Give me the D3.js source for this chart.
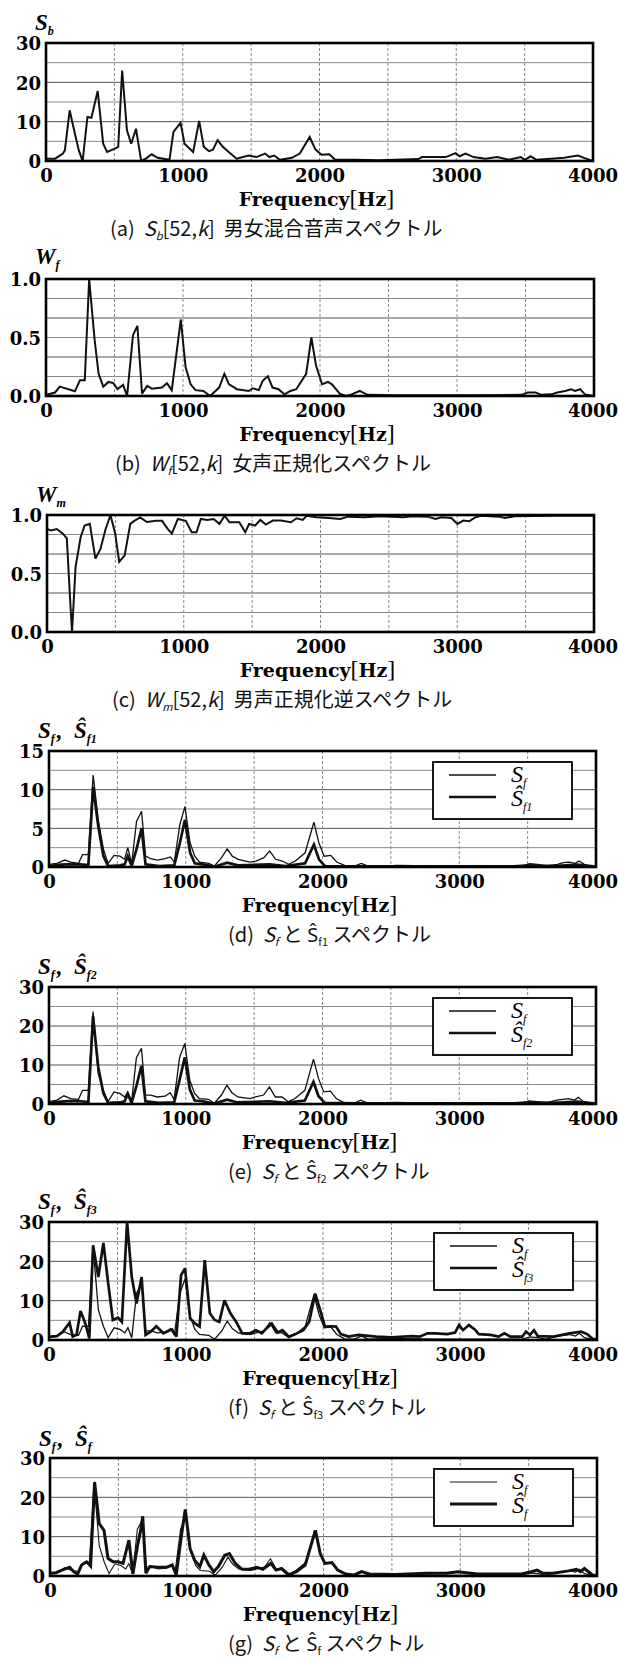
<!DOCTYPE html>
<html>
<head>
<meta charset="utf-8">
<script src="https://cdn.jsdelivr.net/npm/d3@7"></script>
<style>
  html, body { margin: 0; padding: 0; background: #fff; }
  svg { display: block; }
</style>
</head>
<body>
<svg id="fig" width="619" height="1659"></svg>
<script>
// ---- Frequency axis ----
const freqTicks = [0, 1000, 2000, 3000, 4000];
const freqGrid = [500, 1000, 1500, 2000, 2500, 3000, 3500];

// ---- (a) mixed male/female spectrum S_b[52,k] ----
const sbHz  = [0,66,124,138,173,211,240,268,303,332,378,418,447,499,528,557,592,623,658,696,730,773,817,903,932,984,1013,1076,1120,1154,1192,1221,1255,1293,1336,1394,1481,1538,1602,1634,1668,1711,1798,1856,1928,1971,2015,2072,2115,2260,2433,2548,2722,2750,2923,2996,3024,3068,3126,3212,3299,3385,3472,3501,3544,3587,3789,3890,3934,4000];
const sbVal = [0.6,0.6,1.9,2.7,12.9,7,2.7,0,11.2,11,17.8,4.4,2.3,3.1,3.6,23,7.8,4.4,8.2,0,0.6,1.7,0.8,0.3,7.4,9.7,4.4,2.3,10.2,3.6,2.5,2.9,5.3,3.6,2.3,0.6,1.4,1.0,1.9,1.0,1.4,0.3,0.8,1.9,6.1,2.9,1.6,1.7,0.3,0.3,0.2,0.3,0.5,1.0,1.0,2.0,1.2,1.9,1.0,0.6,1.0,0.3,1.0,0.3,1.2,0.3,0.8,1.4,0.8,0];

// ---- (b) female normalized spectrum W_f[52,k] ----
const wfHz  = [0,66,101,211,248,283,315,355,384,418,456,491,522,563,592,635,667,701,739,773,846,883,918,984,1019,1056,1091,1149,1198,1264,1302,1336,1394,1481,1509,1553,1582,1619,1654,1697,1740,1784,1827,1899,1937,1971,2015,2058,2087,2144,2188,2231,2289,2347,2548,3126,3472,3515,3573,3616,3688,3732,3789,3833,3861,3899,3934,4000];
const wfVal = [0.01,0.03,0.08,0.04,0.135,0.135,1.0,0.48,0.19,0.08,0.12,0.11,0.06,0.095,0,0.52,0.6,0.02,0.086,0.063,0.072,0.11,0.05,0.654,0.245,0.1,0.05,0.043,0,0.072,0.19,0.1,0.058,0.043,0.066,0.05,0.13,0.17,0.072,0.058,0.014,0.043,0.058,0.19,0.5,0.26,0.1,0.12,0.1,0.02,0,0.014,0.043,0.01,0.006,0.006,0.01,0.03,0.03,0.01,0.014,0.03,0.043,0.058,0.043,0.058,0.014,0];

// ---- (c) male normalized inverse spectrum W_m[52,k] ----
const wmHz  = [0,29,72,116,145,168,183,209,246,275,313,354,391,429,464,499,528,568,609,638,681,731,797,841,884,913,957,1015,1058,1093,1125,1174,1218,1261,1299,1334,1406,1450,1478,1522,1560,1600,1652,1710,1783,1826,1870,1899,1971,2058,2145,2203,2319,2435,2609,2667,2783,2841,2884,2957,3001,3044,3087,3131,3174,3305,3348,3420,3710,4000];
const wmVal = [0.88,0.867,0.88,0.84,0.80,0.30,0,0.556,0.81,0.91,0.924,0.627,0.71,0.88,1.0,0.84,0.6,0.655,0.924,0.95,0.98,0.94,0.95,0.95,0.88,0.84,0.966,0.95,0.853,0.853,0.966,0.958,0.966,0.924,0.994,0.938,0.938,0.853,0.924,0.91,0.958,0.918,0.952,0.952,0.938,0.972,0.958,0.994,0.98,0.975,0.966,0.986,0.98,0.99,0.98,0.989,0.986,0.966,0.98,0.975,0.924,0.952,0.946,0.98,0.994,0.986,0.975,0.99,0.994,0.994];

// ---- (d) S_f and estimate Ŝ_f1 (0–15 axis) ----
const sfdHz  = [0,58,115,159,216,245,288,323,360,398,432,476,519,553,576,605,640,677,706,744,793,850,888,916,957,994,1032,1066,1101,1167,1210,1262,1303,1340,1383,1470,1513,1571,1614,1657,1706,1752,1801,1873,1937,1974,2012,2061,2104,2162,2234,2283,2334,2507,2536,2825,3459,3516,3574,3632,3718,3761,3804,3848,3876,3914,3963,4000];
const sfdVal = [0.34,0.47,0.9,0.64,0.47,1.6,1.6,11.9,6.1,2.3,0.47,1.5,1.4,1.0,2.5,0.47,5.9,7.2,1.4,1.07,0.9,1.07,1.3,0.64,5.5,7.8,3.1,1.4,0.64,0.47,0.13,1.2,2.35,1.4,1.0,0.64,0.77,1.2,2.05,1.0,0.77,0.34,0.77,1.84,5.8,3.1,1.4,1.5,0.64,0.21,0.13,0.47,0.13,0.13,0.21,0.13,0.13,0.43,0.34,0.13,0.34,0.56,0.64,0.47,0.77,0.34,0.04,0];
const sf1Hz  = [0,86,173,231,288,323,360,398,432,519,553,576,605,640,677,706,807,916,957,994,1032,1066,1124,1210,1303,1383,1614,1729,1873,1937,1974,2017,2248,3401,3516,3689,3862,4000];
const sf1Val = [0.13,0.3,0.38,0.34,0.26,10.4,5.3,1.4,0.13,0.21,0.34,1.4,0.13,2.3,5.0,0.34,0.13,0.21,3.1,6.1,1.84,0.47,0.34,0.04,0.56,0.21,0.34,0.13,0.47,2.9,1.0,0.13,0.08,0.08,0.21,0.13,0.3,0.04];

// ---- female spectrum S_f (0–30 axis), shared by (e)(f)(g) ----
const sfHz  = [0,58,109,158,216,245,288,322,360,397,432,475,518,553,576,604,639,676,705,743,791,849,886,915,955,993,1030,1065,1099,1166,1209,1261,1301,1338,1381,1468,1511,1569,1612,1655,1704,1750,1799,1871,1934,1971,2009,2058,2101,2159,2230,2279,2331,2533,2820,3454,3511,3569,3626,3713,3756,3799,3842,3871,3908,3957,4000];
const sfVal = [0.6,1.0,2.1,1.4,1.2,3.5,3.5,23.7,7.7,3.5,0.6,3.1,2.7,1.8,3.1,0.6,11.9,14.3,2.3,2.3,1.8,2.0,2.9,1.2,11.9,15.5,6.0,2.7,1.4,1.2,0.2,2.3,4.8,2.9,1.8,1.4,1.8,2.3,4.4,1.8,1.8,0.6,1.4,3.5,11.5,6.5,3.1,3.3,1.4,0.3,0.2,1.0,0.2,0.4,0.2,0.2,0.8,0.6,0.2,1.0,1.2,1.4,1.0,1.7,0.6,0.2,0];

// ---- (e) estimate Ŝ_f2 ----
const sf2Hz  = [0,86,173,231,288,322,360,397,432,518,553,576,604,639,676,705,807,915,955,993,1030,1065,1124,1209,1301,1381,1612,1729,1871,1934,1971,2017,2248,3401,3516,3689,3862,4000];
const sf2Val = [0.3,0.6,0.8,0.7,0.5,22.5,9.5,2.8,0.3,0.4,0.7,2.6,0.3,4.6,9.8,0.7,0.3,0.4,6.2,12,3.7,0.9,0.7,0.1,1.1,0.4,0.7,0.3,0.9,5.7,2.0,0.3,0.15,0.15,0.4,0.3,0.6,0.1];

// ---- (f) estimate Ŝ_f3 ----
const sf3Hz  = [0,58,101,150,173,201,230,265,294,322,360,397,432,466,504,532,570,604,639,676,705,743,783,835,898,930,964,993,1030,1065,1099,1137,1174,1209,1243,1281,1324,1367,1410,1468,1511,1554,1589,1626,1669,1704,1750,1799,1856,1899,1943,1986,2014,2058,2095,2130,2187,2259,2389,2504,2648,2705,2763,2820,2907,2964,2993,3022,3065,3108,3137,3223,3281,3324,3367,3454,3482,3511,3540,3568,3683,3799,3885,3928,3971,4000];
const sf3Val = [0.85,1.0,2.1,4.4,0.85,1.3,7.4,4.2,0.4,24.1,16,24.7,14.4,5.1,5.7,4.6,30,16,9.3,16,1.3,2.1,3.5,1.7,2.7,0.85,16.5,18.2,5.5,4.2,3.4,20.3,6.8,5.1,4.6,10.1,6.8,4.6,1.7,1.7,2.5,1.7,3.0,4.2,1.9,2.5,0.85,1.5,2.5,4.6,11.8,6.8,3.4,3.5,3.4,1.5,0.85,1.3,0.85,0.7,1.0,0.85,1.7,1.7,1.5,1.9,3.8,2.5,3.8,2.7,1.5,1.3,0.85,1.7,0.85,0.85,2.1,1.3,2.5,1.0,0.85,1.7,2.1,1.5,0.2,0.2];

// ---- (g) final estimate Ŝ_f ----
const sfgHz  = [0,43,101,144,173,202,231,268,297,326,360,395,424,461,499,534,577,606,643,663,678,701,730,793,851,894,923,960,989,1024,1058,1096,1125,1162,1197,1231,1278,1312,1355,1405,1456,1514,1557,1615,1653,1693,1745,1802,1866,1941,1976,2010,2062,2105,2163,2221,2278,2336,2524,2754,2898,2985,3043,3129,3302,3447,3519,3562,3605,3677,3793,3850,3879,3908,3966,4000];
const sfgVal = [0.7,0.85,1.7,2.2,1.1,0.5,2.8,3.6,2.5,23.9,13.3,11.6,4.5,3.6,3.6,3.2,9.1,0.5,8.3,11.6,15.2,0.7,2.4,2.2,2.2,2.8,0.25,10,16.9,7,4.0,2.4,5.3,2.8,1.1,2.4,5.3,5.7,3.2,1.7,1.7,2.2,1.7,3.2,1.5,1.9,0.25,1.1,2.8,11.6,5.7,3.2,3.4,1.5,0.5,0.25,1.1,0.5,0.4,0.7,0.7,1.1,0.85,0.5,0.5,0.5,1.1,1.5,0.7,0.7,1.3,1.7,1.1,1.9,0.25,0.1];

// ---- y-axis tick labels ----
const ticks30 = [0, 10, 20, 30];
const ticks15 = [0, 5, 10, 15];
const ticksUnit = [0, 0.5, 1.0];

const zip = (hz, v) => hz.map((f, i) => ({ f, v: v[i] }));

const THIN = 1.3, THICK = 2.7, SINGLE = 2.0;

// rich-text segments: t = text, it = italic, sub = subscript
const S = (t, o = {}) => Object.assign({ t }, o);

const panels = [
  { left: 46, right: 593, top: 43, bottom: 161, ymax: 30, yTicks: ticks30, fmt: "d",
    title: [S("S"), S("b", { sub: true })], titleDy: -13,
    series: [{ d: zip(sbHz, sbVal), w: SINGLE }],
    capX: 110, caption: [S("(a)  "), S("S", { it: true }), S("b", { sub: true, it: true }), S("[52,"), S("k", { it: true }), S("]  男女混合音声スペクトル")] },
  { left: 46, right: 594, top: 279, bottom: 396, ymax: 1, yTicks: ticksUnit, fmt: ".1f",
    title: [S("W"), S("f", { sub: true })], titleDy: -15,
    series: [{ d: zip(wfHz, wfVal), w: SINGLE }],
    capX: 115, caption: [S("(b)  "), S("W", { it: true }), S("f", { sub: true, it: true }), S("[52,"), S("k", { it: true }), S("]  女声正規化スペクトル")] },
  { left: 47, right: 594, top: 515, bottom: 632, ymax: 1, yTicks: ticksUnit, fmt: ".1f",
    title: [S("W"), S("m", { sub: true })], titleDy: -13,
    series: [{ d: zip(wmHz, wmVal), w: SINGLE }],
    capX: 112, caption: [S("(c)  "), S("W", { it: true }), S("m", { sub: true, it: true }), S("[52,"), S("k", { it: true }), S("]  男声正規化逆スペクトル")] },
  { left: 49, right: 596, top: 751, bottom: 867, ymax: 15, yTicks: ticks15, fmt: "d",
    title: [S("S"), S("f", { sub: true }), S("\u200A,  Ŝ"), S("f1", { sub: true })], titleDy: -13,
    series: [{ d: zip(sfdHz, sfdVal), w: THIN }, { d: zip(sf1Hz, sf1Val), w: THICK }],
    legend: [S("Ŝ"), S("f1", { sub: true })],
    capX: 228, caption: [S("(d)  "), S("S", { it: true }), S("f", { sub: true, it: true }), S(" と "), S("Ŝ"), S("f1", { sub: true }), S(" スペクトル")] },
  { left: 49, right: 596, top: 987, bottom: 1104, ymax: 30, yTicks: ticks30, fmt: "d",
    title: [S("S"), S("f", { sub: true }), S("\u200A,  Ŝ"), S("f2", { sub: true })], titleDy: -13,
    series: [{ d: zip(sfHz, sfVal), w: THIN }, { d: zip(sf2Hz, sf2Val), w: THICK }],
    legend: [S("Ŝ"), S("f2", { sub: true })],
    capX: 228, caption: [S("(e)  "), S("S", { it: true }), S("f", { sub: true, it: true }), S(" と "), S("Ŝ"), S("f2", { sub: true }), S(" スペクトル")] },
  { left: 49, right: 597, top: 1222, bottom: 1340, ymax: 30, yTicks: ticks30, fmt: "d",
    title: [S("S"), S("f", { sub: true }), S("\u200A,  Ŝ"), S("f3", { sub: true })], titleDy: -13,
    series: [{ d: zip(sfHz, sfVal), w: THIN }, { d: zip(sf3Hz, sf3Val), w: THICK }],
    legend: [S("Ŝ"), S("f3", { sub: true })],
    capX: 228, caption: [S("(f)  "), S("S", { it: true }), S("f", { sub: true, it: true }), S(" と "), S("Ŝ"), S("f3", { sub: true }), S(" スペクトル")] },
  { left: 50, right: 597, top: 1458, bottom: 1576, ymax: 30, yTicks: ticks30, fmt: "d",
    title: [S("S"), S("f", { sub: true }), S("\u200A,  Ŝ"), S("f", { sub: true })], titleDy: -12,
    series: [{ d: zip(sfHz, sfVal), w: 1.1 }, { d: zip(sfgHz, sfgVal), w: 3.0 }],
    legend: [S("Ŝ"), S("f", { sub: true })],
    capX: 228, caption: [S("(g)  "), S("S", { it: true }), S("f", { sub: true, it: true }), S(" と "), S("Ŝ"), S("f", { sub: true }), S(" スペクトル")] }
];

const svg = d3.select("#fig");
const SERIF_BOLD = "'DejaVu Serif', 'Liberation Serif', serif";
const TIMES = "'Liberation Serif', 'Times New Roman', serif";
const GOTHIC = "'Noto Sans CJK JP', 'Noto Sans', sans-serif";
const PAGE_RIGHT = 618;

// writes segments as tspans, shifting subscripts down
function rich(sel, parts, subSize, subShift) {
  let shift = 0;
  parts.forEach(p => {
    const ts = sel.append("tspan").text(p.t);
    const target = p.sub ? subShift : 0;
    if (target !== shift) { ts.attr("dy", target - shift); shift = target; }
    if (p.sub) ts.attr("font-size", subSize);
    if (p.it) ts.attr("font-style", "italic");
  });
}

panels.forEach((p, idx) => {
  const x = d3.scaleLinear().domain([0, 4000]).range([p.left, p.right]);
  const y = d3.scaleLinear().domain([0, p.ymax]).range([p.bottom, p.top]);
  const g = svg.append("g");

  // horizontal grid every sixth of the range
  const hLines = d3.range(1, 6).map(i => i * p.ymax / 6);
  g.append("g").selectAll("line").data(hLines).join("line")
    .attr("x1", p.left).attr("x2", p.right)
    .attr("y1", d => y(d)).attr("y2", d => y(d))
    .attr("stroke", (d, i) => i % 2 ? "#555" : "#8a8a8a")
    .attr("stroke-width", 1);

  // vertical grid every 500 Hz
  g.append("g").selectAll("line").data(freqGrid).join("line")
    .attr("x1", d => x(d)).attr("x2", d => x(d))
    .attr("y1", p.top).attr("y2", p.bottom)
    .attr("stroke", "#8a8a8a").attr("stroke-width", 1)
    .attr("stroke-dasharray", "3,2");

  // clip for traces
  const clipId = "clip" + idx;
  svg.append("clipPath").attr("id", clipId).append("rect")
    .attr("x", p.left).attr("y", p.top - 1)
    .attr("width", p.right - p.left).attr("height", p.bottom - p.top + 1);

  const line = d3.line().x(d => x(d.f)).y(d => y(d.v));
  const traces = g.append("g").attr("clip-path", `url(#${clipId})`);
  p.series.forEach(s => {
    traces.append("path").datum(s.d)
      .attr("d", line)
      .attr("fill", "none").attr("stroke", "#111")
      .attr("stroke-width", s.w)
      .attr("stroke-linejoin", "miter").attr("stroke-miterlimit", 3);
  });

  // frame
  g.append("rect")
    .attr("x", p.left).attr("y", p.top)
    .attr("width", p.right - p.left).attr("height", p.bottom - p.top)
    .attr("fill", "none").attr("stroke", "#000").attr("stroke-width", 2.6);

  // x axis labels
  const xa = g.append("g").attr("transform", `translate(0,${p.bottom})`)
    .call(d3.axisBottom(x).tickValues(freqTicks).tickSize(0).tickFormat(d3.format("d")));
  xa.select(".domain").remove();
  xa.attr("font-family", SERIF_BOLD).attr("font-size", 18).attr("font-weight", "bold");
  xa.selectAll("text").attr("y", 21).attr("dy", null).attr("fill", "#000");
  // last label sits flush with the page edge
  xa.selectAll(".tick").filter(d => d === 4000)
    .attr("transform", `translate(${PAGE_RIGHT},0)`)
    .select("text").attr("text-anchor", "end");

  // y axis labels
  const ya = g.append("g").attr("transform", `translate(${p.left},0)`)
    .call(d3.axisLeft(y).tickValues(p.yTicks).tickSize(0).tickPadding(5).tickFormat(d3.format(p.fmt)));
  ya.select(".domain").remove();
  ya.attr("font-family", SERIF_BOLD).attr("font-size", 18).attr("font-weight", "bold");
  ya.selectAll("text").attr("dy", "0.38em").attr("fill", "#000");

  // quantity label above the axis
  const t = g.append("text").attr("x", p.left - 11).attr("y", p.top + p.titleDy)
    .attr("font-family", TIMES).attr("font-size", 23).attr("font-weight", "bold")
    .attr("font-style", "italic").attr("fill", "#000")
    .style("white-space", "pre");
  rich(t, p.title, 12, 5);

  // x axis title
  const cx = (p.left + p.right) / 2 - 3;
  const ft = g.append("text").attr("x", cx).attr("y", p.bottom + 45)
    .attr("text-anchor", "middle").attr("fill", "#000")
    .attr("font-family", SERIF_BOLD).attr("font-size", 19).attr("font-weight", "bold");
  ft.append("tspan").text("Frequency");
  ft.append("tspan").attr("font-family", TIMES).attr("font-weight", "normal").attr("font-size", 24).text("[");
  ft.append("tspan").text("Hz");
  ft.append("tspan").attr("font-family", TIMES).attr("font-weight", "normal").attr("font-size", 24).text("]");

  // caption
  const ct = g.append("text").attr("x", p.capX).attr("y", p.bottom + 75)
    .attr("font-family", GOTHIC).attr("font-size", 20).attr("fill", "#111")
    .style("white-space", "pre");
  rich(ct, p.caption, 11, 4);

  // legend
  if (p.legend) {
    const bx = p.right - 163, by = p.top + 11;
    const lg = g.append("g");
    lg.append("rect").attr("x", bx).attr("y", by).attr("width", 139).attr("height", 57)
      .attr("fill", "#fff").attr("stroke", "#000").attr("stroke-width", 1.8);
    const rows = [
      { w: p.series[0].w, parts: [S("S"), S("f", { sub: true })], ly: 13, ty: 20 },
      { w: p.series[1].w, parts: p.legend, ly: 35, ty: 44 }
    ];
    rows.forEach(r => {
      lg.append("line").attr("x1", bx + 16).attr("x2", bx + 63)
        .attr("y1", by + r.ly).attr("y2", by + r.ly)
        .attr("stroke", "#111").attr("stroke-width", r.w);
      const lt = lg.append("text").attr("x", bx + 78).attr("y", by + r.ty)
        .attr("font-family", TIMES).attr("font-size", 24).attr("font-style", "italic").attr("fill", "#000");
      rich(lt, r.parts, 12, 5);
    });
  }
});
</script>
</body>
</html>
